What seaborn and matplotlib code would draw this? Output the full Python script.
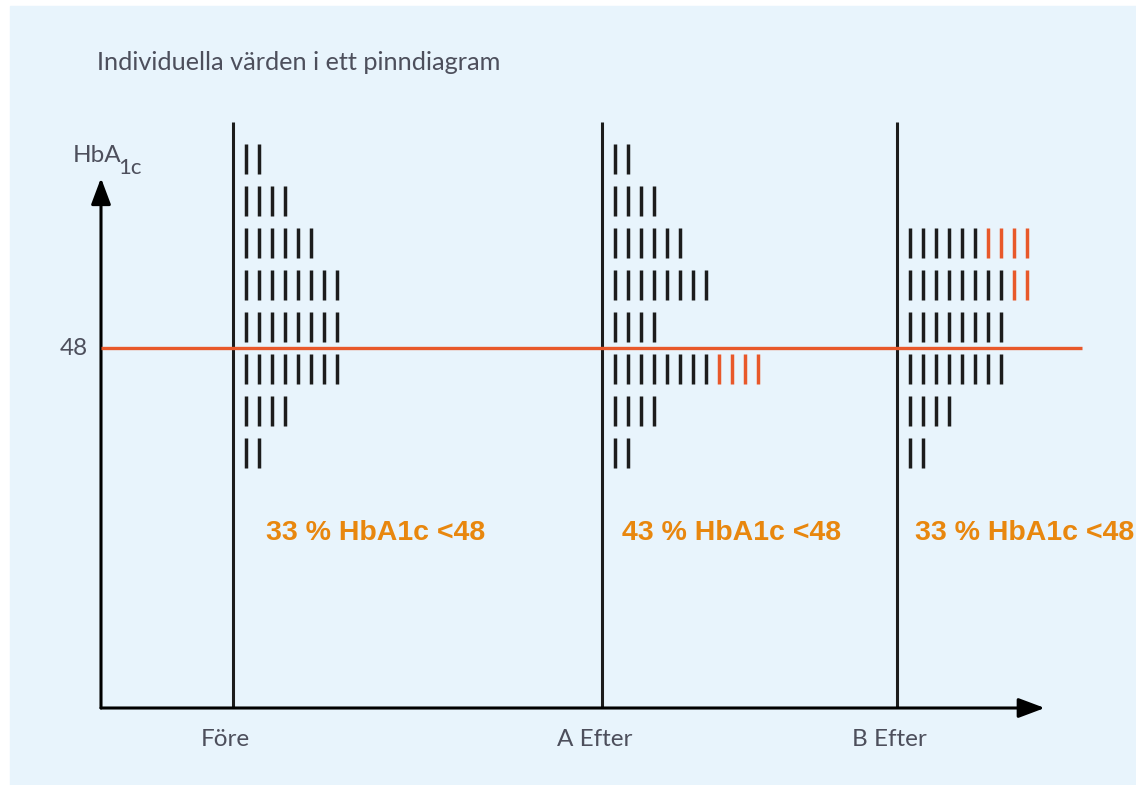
import numpy as np
import pandas as pd
import seaborn as sns
import matplotlib.pyplot as plt
from matplotlib.patches import Rectangle

# Data: pins per row (rows from high to low HbA1c)
levels = [66, 62, 58, 54, 50, 46, 42, 38]
groups = ["Före", "A Efter", "B Efter"]
fore_black = [2, 4, 6, 8, 8, 8, 4, 2]
fore_orange = [0, 0, 0, 0, 0, 0, 0, 0]
a_black = [2, 4, 6, 8, 4, 8, 4, 2]
a_orange = [0, 0, 0, 0, 0, 4, 0, 0]
b_black = [0, 0, 6, 8, 8, 8, 4, 2]
b_orange = [0, 0, 4, 2, 0, 0, 0, 0]
pct_labels = ["33 % HbA1c <48", "43 % HbA1c <48", "33 % HbA1c <48"]
threshold = 48

# layout
group_x = [10.15, 38.54, 61.2]
pin_offset = 1.0
bg = "#E8F4FC"
txt_col = "#4d4f5c"
line_orange = "#E8582A"
text_orange = "#E8870E"

rows = []
for g, gx, blk, org in zip(groups, group_x,
                           [fore_black, a_black, b_black],
                           [fore_orange, a_orange, b_orange]):
    for lev, nb, no in zip(levels, blk, org):
        for i in range(nb + no):
            rows.append({"group": g, "level": lev,
                         "x": gx + pin_offset + i,
                         "kind": "black" if i < nb else "orange"})
pins = pd.DataFrame(rows)

fig = plt.figure(figsize=(11.36, 7.85), dpi=100)
fig.patch.set_facecolor("white")
fig.add_artist(Rectangle((10 / 1136, 0), 1, (785 - 6) / 785,
                         transform=fig.transFigure, color=bg, zorder=0))

ax = fig.add_axes([101 / 1136, (785 - 708) / 785,
                   (1090 - 101) / 1136, (708 - 110) / 785])
ax.set_facecolor("none")
ymin, ymax = 13.714, 70.67
xmax = 76.08
ax.set_xlim(0, xmax)
ax.set_ylim(ymin, ymax)

sns.scatterplot(data=pins, x="x", y="level", hue="kind",
                palette={"black": "#1c1c1c", "orange": line_orange},
                marker="|", s=480, linewidth=2.5, legend=False, ax=ax,
                zorder=3)
ax.set_axis_off()

# group lines
ax.vlines(group_x, ymin, 69.52, color="#1c1c1c", lw=2.2, clip_on=False)
# threshold line
ax.hlines(threshold, 0, 75.46, color=line_orange, lw=2.4, zorder=4,
          clip_on=False)

# axes arrows
arrow = dict(arrowstyle="-|>,head_length=0.8,head_width=0.3",
             color="black", lw=2.2, mutation_scale=20,
             shrinkA=0, shrinkB=0)
ax.annotate("", xy=(0, 64.19), xytext=(0, ymin), arrowprops=arrow,
            annotation_clip=False)
ax.annotate("", xy=(72.6, ymin), xytext=(0, ymin), arrowprops=arrow,
            annotation_clip=False)

# texts
lato = ["Lato", "DejaVu Sans"]
ax.text(-1.0, threshold, "48", ha="right", va="center", fontsize=17.5,
        color=txt_col, family=lato)
ax.text(-2.15, 65.7, "HbA", ha="left", va="baseline", fontsize=17.5,
        color=txt_col, family=lato)
ax.text(1.35, 64.6, "1c", ha="left", va="baseline", fontsize=16,
        color=txt_col, family=lato)
for gx, g in zip(group_x, groups):
    ax.text(gx - 0.55, ymin - 3.0, g, ha="center", va="center", fontsize=17.5,
            color=txt_col,
            family=["Liberation Sans Narrow", "Lato", "DejaVu Sans"])
for gx, lab, dx in zip(group_x, pct_labels, [2.55, 1.55, 1.45]):
    ax.text(gx + dx, 30.4, lab, ha="left", va="center", fontsize=20.5,
            fontweight="bold", color=text_orange,
            family=["Liberation Sans", "DejaVu Sans"])

fig.text(97 / 1136, 1 - 63 / 785, "Individuella värden i ett pinndiagram",
         ha="left", va="center", fontsize=18.2, color=txt_col,
         family=lato)

plt.savefig("out.png", dpi=100)
plt.close()
